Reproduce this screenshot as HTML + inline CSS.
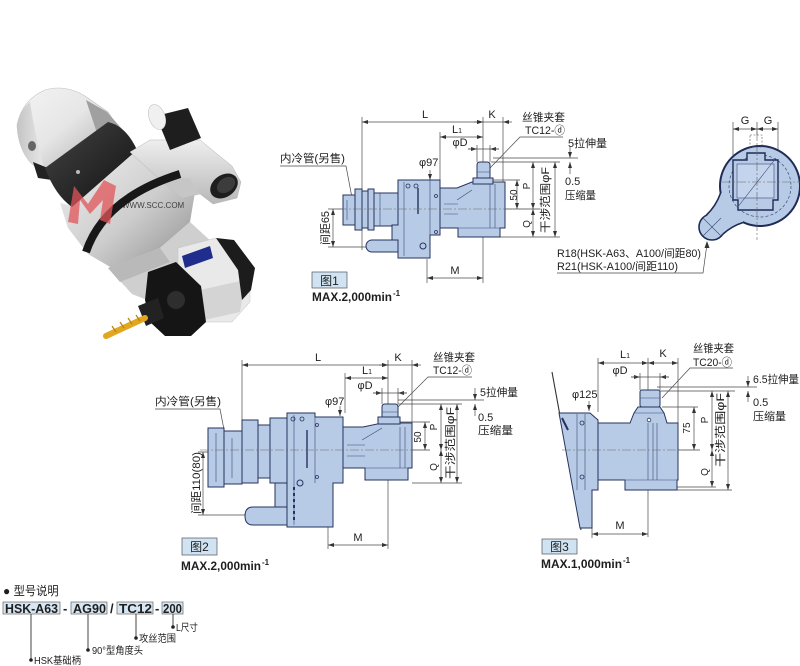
<!DOCTYPE html>
<html><head><meta charset="utf-8">
<style>
html,body{margin:0;padding:0;background:#fff;}
svg{display:block;}
text{font-family:"Liberation Sans","Noto Sans CJK SC",sans-serif;fill:#1e1e1e;}
.d{stroke:#4a4a4a;stroke-width:0.7;fill:none;}
.dm{stroke:#4a4a4a;stroke-width:0.7;fill:none;marker-start:url(#ar);marker-end:url(#ar);}
.de{stroke:#4a4a4a;stroke-width:0.7;fill:none;marker-end:url(#ar);}
.cl{stroke:#666;stroke-width:0.6;fill:none;stroke-dasharray:9 2 2 2;}
.b{fill:#b8cbe6;stroke:#26335f;stroke-width:1;}
.i{stroke:#3a4a78;stroke-width:0.6;fill:none;}
.t11{font-size:11px;}
.t10{font-size:10px;}
.t12{font-size:12px;}
</style></head><body>
<svg width="800" height="666" viewBox="0 0 800 666" xmlns="http://www.w3.org/2000/svg">
<defs>
<marker id="ar" viewBox="0 0 6 4" refX="6" refY="2" markerWidth="6" markerHeight="4" orient="auto-start-reverse" markerUnits="userSpaceOnUse"><path d="M0,0 L6,2 L0,4 z" fill="#333"/></marker>
<linearGradient id="gSh" x1="0" y1="0" x2="1" y2="1"><stop offset="0" stop-color="#f4f4f4"/><stop offset="0.45" stop-color="#e6e6e6"/><stop offset="1" stop-color="#a4a4a4"/></linearGradient>
<linearGradient id="gSi" x1="0" y1="0" x2="1" y2="1"><stop offset="0" stop-color="#f2f2f2"/><stop offset="0.55" stop-color="#cdcdcd"/><stop offset="1" stop-color="#8e8e8e"/></linearGradient>
<linearGradient id="gSi2" x1="0" y1="0" x2="0" y2="1"><stop offset="0" stop-color="#eeeeee"/><stop offset="1" stop-color="#b8b8b8"/></linearGradient>
<linearGradient id="gBk" x1="0" y1="0" x2="1" y2="1"><stop offset="0" stop-color="#444"/><stop offset="1" stop-color="#111"/></linearGradient>
<linearGradient id="gEnd" x1="0" y1="0" x2="1" y2="0"><stop offset="0" stop-color="#c4c4c4"/><stop offset="1" stop-color="#e8e8e8"/></linearGradient>
</defs>
<rect width="800" height="666" fill="#fff"/>

<!-- ================= PHOTO ================= -->
<g>
 <!-- shank -->
 <path d="M17,125 Q22,100 45,90 Q65,84 85,96 L108,112 L120,130 L58,174 Q40,172 30,162 Q18,148 17,125 Z" fill="url(#gSh)" stroke="#c0c0c0" stroke-width="0.6"/>
 <path d="M17,125 Q20,110 30,102 Q34,130 44,168 Q36,168 30,162 Q18,148 17,125 Z" fill="url(#gEnd)"/>
 <path d="M86,100 L107,112 L122,129 L100,142 Z" fill="#a0a0a0"/>
 <ellipse cx="32" cy="146" rx="4" ry="5" fill="#666"/>
 <path d="M33,162 L48,168 L52,180 L38,178 Z" fill="#222"/>
 <!-- main silver body -->
 <path d="M60,203 L72,206 L136,150 L152,146 L178,160 L196,186 L190,222 L160,248 L112,268 L88,254 L68,228 Z" fill="url(#gSi)"/>
 <!-- black ring 1 -->
 <path d="M45,168 L108,122 Q126,126 137,150 L72,207 Q55,195 45,168 Z" fill="url(#gBk)"/>
 <circle cx="78" cy="172" r="2" fill="#bbb"/>
 <!-- arm -->
 <path d="M130,152 L150,140 L200,140 L232,166 L241,182 L237,198 L213,204 L200,194 L182,198 L160,180 Z" fill="url(#gSi2)" stroke="#b5b5b5" stroke-width="0.5"/>
 <path d="M160,180 L182,198 L200,194 L190,178 Z" fill="#c6c6c6"/>
 <!-- small cylinder top -->
 <path d="M156,116 L188,108 L201,138 L170,150 Z" fill="#1e1e1e"/>
 <ellipse cx="157" cy="117" rx="8" ry="13" transform="rotate(-20 157 117)" fill="#f0f0f0" stroke="#bbb" stroke-width="0.5"/>
 <!-- black cap -->
 <ellipse cx="224" cy="186" rx="15" ry="11" transform="rotate(-35 224 186)" fill="#1e1e1e"/>
 <ellipse cx="226" cy="185" rx="10" ry="7" transform="rotate(-35 226 185)" fill="#3c3c3c"/>
 <!-- ring 2 -->
 <path d="M86,252 Q104,198 180,174" stroke="#181818" stroke-width="8" fill="none"/>
 <!-- watermark -->
 <path d="M68,222 L74,186 L88,204 L104,180 L116,186 L110,224 L100,220 L103,200 L90,214 L80,200 L78,224 Z" fill="#e0555a" opacity="0.75"/>
 <text x="122" y="208" font-size="8" fill="#c9c9c9" opacity="0.8">WWW.SCC.COM</text>
 <!-- lower housing -->
 <path d="M108,268 L160,248 L190,222 L214,244 L205,292 L152,302 L132,294 Z" fill="#cfcfcf"/>
 <path d="M108,268 L160,248 L170,262 L120,282 Z" fill="#b9b9b9"/>
 <!-- gearbox -->
 <path d="M178,248 L216,238 L250,266 L250,302 L232,322 L200,322 L178,292 Z" fill="#e9e9e9" stroke="#c4c4c4" stroke-width="0.5"/>
 <path d="M200,290 L245,280 L240,312 L204,320 Z" fill="#d4d4d4"/>
 <path d="M216,238 L234,240 L255,268 L251,290 L242,300 L238,270 Z" fill="#1c1c1c"/>
 <path d="M182,256 L210,246 L213,258 L185,268 Z" fill="#1f2d8c"/>
 <!-- black flange -->
 <path d="M148,272 L176,262 L201,286 L206,322 L191,336 L165,336 L150,322 L145,300 Z" fill="#151515"/>
 <circle cx="176" cy="300" r="9" fill="#2e2e2e"/>
 <path d="M138,306 L158,298 L164,318 L146,326 Z" fill="#222"/>
 <!-- drill -->
 <path d="M145,318 L106,336" stroke="#e2a71e" stroke-width="6" stroke-linecap="round"/>
 <path d="M140,321 L136,315 M132,324 L128,318 M124,328 L120,322 M116,332 L112,326" stroke="#b97f0c" stroke-width="1.2"/>
</g>

<!-- ================= FIG 1 ================= -->
<g>
 <path class="d" d="M362,117 V250 M483,117 V283 M503,117 V182 M440,132 V180 M427,259 V283"/>
 <path class="dm" d="M362,122 H483"/>
 <path class="d" d="M483,122 H503"/>
 <path class="de" d="M512,122 H503"/><path class="de" d="M474,122 H483"/>
 <path class="dm" d="M440,137 H483"/>
 <path class="d" d="M477,145 V162 M490,145 V162"/>
 <path class="de" d="M468,149 H477"/><path class="de" d="M499,149 H490"/>
 <path class="d" d="M468,149 H499"/>
 <path class="de" d="M430,170 V180"/>
 <path class="dm" d="M427,278 H483"/>
 <path class="d" d="M328,209 H343 M328,247 H372"/>
 <path class="dm" d="M333,209 V247"/>
 <path class="d" d="M493,158 H578 M491,162 H560 M493,180 H520 M500,237 H560 M505,209 H540"/>
 <path class="dm" d="M517,180 V209"/>
 <path class="dm" d="M533,162 V209"/>
 <path class="dm" d="M533,209 V237"/>
 <path class="dm" d="M555,162 V237"/>
 <path class="de" d="M570,146 V158"/><path class="de" d="M570,174 V162"/>
 <path class="d" d="M280,166 H346 L353,203"/>
 <path class="d" d="M563,137 H520 L490,168"/>
 <rect class="b" x="343" y="195" width="12" height="30"/>
 <rect class="b" x="355" y="189" width="7" height="41"/>
 <rect class="b" x="362" y="191" width="6" height="37"/>
 <rect class="b" x="368" y="189" width="6" height="41"/>
 <rect class="b" x="374" y="193" width="24" height="33"/>
 <path class="b" d="M398,240 H372 A6,6 0 0 0 372,252 H398 Z"/>
 <path class="b" d="M398,180 H440 V235 H430 V258 H398 V240 H392 V225 H398 Z"/>
 <path class="b" d="M440,188 H457 L472,182 H505 V228 H500 V237 H458 V228 H440 Z"/>
 <rect class="b" x="473" y="178" width="20" height="6"/>
 <path class="b" d="M477,178 V165 Q477,162 480,162 H487 Q490,162 490,165 V178 Z"/>
 <path class="i" d="M404,182 V256 M430,180 V235 M458,228 H500 M490,184 V228 M495,184 V228 M457,200 L472,190 M444,214 H458 M444,204 H458 M347,200 V220 M380,193 V226 M477,172 H490"/>
 <path d="M418,188 V214" stroke="#26335f" stroke-width="1.4"/>
 <circle cx="408" cy="186" r="2" fill="none" stroke="#26335f" stroke-width="0.8"/>
 <circle cx="416" cy="186" r="2" fill="none" stroke="#26335f" stroke-width="0.8"/>
 <circle cx="423" cy="246" r="3" fill="none" stroke="#26335f" stroke-width="1"/>
 <circle cx="436" cy="196" r="1.5" fill="none" stroke="#26335f" stroke-width="0.8"/>
 <circle cx="436" cy="232" r="1.5" fill="none" stroke="#26335f" stroke-width="0.8"/>
 <path class="cl" d="M338,209 H545"/>
 <text class="t11" x="425" y="118" text-anchor="middle">L</text>
 <text class="t11" x="492" y="118" text-anchor="middle">K</text>
 <text class="t11" x="457" y="133" text-anchor="middle">L<tspan font-size="7">1</tspan></text>
 <text class="t11" x="460" y="146" text-anchor="middle">φD</text>
 <text class="t11" x="419" y="166">φ97</text>
 <text class="t11" x="280" y="162" textLength="65" lengthAdjust="spacingAndGlyphs">内冷管(另售)</text>
 <text class="t11" x="522" y="121" textLength="43" lengthAdjust="spacingAndGlyphs">丝锥夹套</text>
 <text class="t11" x="525" y="134" textLength="40" lengthAdjust="spacingAndGlyphs">TC12-ⓓ</text>
 <text class="t11" x="568" y="147" textLength="39" lengthAdjust="spacingAndGlyphs">5拉伸量</text>
 <text class="t11" x="565" y="185">0.5</text>
 <text class="t11" x="565" y="199" textLength="31" lengthAdjust="spacingAndGlyphs">压缩量</text>
 <text class="t10" transform="translate(517,195) rotate(-90)" text-anchor="middle">50</text>
 <text class="t10" transform="translate(530,186) rotate(-90)" text-anchor="middle">P</text>
 <text class="t10" transform="translate(530,224) rotate(-90)" text-anchor="middle">Q</text>
 <text class="t11" transform="translate(549,200) rotate(-90)" text-anchor="middle" textLength="66" lengthAdjust="spacingAndGlyphs">干涉范围φF</text>
 <text class="t11" transform="translate(329,228) rotate(-90)" text-anchor="middle" textLength="34" lengthAdjust="spacingAndGlyphs">间距65</text>
 <text class="t11" x="455" y="274" text-anchor="middle">M</text>
 <rect x="312" y="272" width="35" height="16" fill="#cfe3f3" stroke="#555" stroke-width="0.7"/>
 <text class="t12" x="329.5" y="285" text-anchor="middle">图1</text>
 <text x="312" y="301" font-size="12" font-weight="bold" textLength="80" lengthAdjust="spacingAndGlyphs">MAX.2,000min</text>
 <text x="393" y="296" font-size="8" font-weight="bold">-1</text>
</g>

<!-- ================= CIRCLE VIEW ================= -->
<g>
 <path class="d" d="M733,122 V160 M757,122 V135 M778,122 V160"/>
 <path class="dm" d="M733,129 H757"/>
 <path class="dm" d="M757,129 H778"/>
 <text class="t11" x="745" y="124" text-anchor="middle">G</text>
 <text class="t11" x="768" y="124" text-anchor="middle">G</text>
 <circle cx="712" cy="227" r="13" fill="#b8cbe6" stroke="#1f2b55" stroke-width="1.6"/>
 <circle cx="760" cy="186" r="40" fill="#b8cbe6" stroke="#1f2b55" stroke-width="2"/>
 <path d="M707,215 Q716,206 721,193 L745,200 L743,222 Q732,226 723,234 L712,227 Z" fill="#b8cbe6"/>
 <path d="M706.5,215 Q716,206 720.6,193" stroke="#1f2b55" stroke-width="1.6" fill="none"/>
 <path d="M743,222.5 Q732,226 723,234" stroke="#1f2b55" stroke-width="1.6" fill="none"/>
 <path class="i" d="M703,236 L721,218 M703,218 L721,236"/>
 <circle cx="760" cy="186" r="31" fill="none" stroke="#3a4a78" stroke-width="0.7" stroke-dasharray="3 2"/>
 <path d="M733,160 H747 V153 H765 V160 H778 V200 H773 V210 H738 V200 H733 Z" fill="#b8cbe6" stroke="#1f2b55" stroke-width="1.4"/>
 <rect x="737" y="164" width="37" height="34" fill="#c3d4ec" stroke="#3a4a78" stroke-width="0.6"/>
 <path class="i" d="M737,208 L776,158"/>
 <rect x="750" y="135" width="12" height="12" fill="none" stroke="#555" stroke-width="0.6" stroke-dasharray="2 1.5"/>
 <path class="cl" d="M757,132 V240 M722,182 H800"/>
 <path class="d" d="M557,273 H703 L707,244"/>
 <path d="M707,241 L704.5,248 L709.5,248 Z" fill="#333"/>
 <text class="t11" x="557" y="257" textLength="144" lengthAdjust="spacingAndGlyphs">R18(HSK-A63、A100/间距80)</text>
 <text class="t11" x="557" y="270" textLength="121" lengthAdjust="spacingAndGlyphs">R21(HSK-A100/间距110)</text>
</g>

<!-- ================= FIG 2 ================= -->
<g>
 <path class="d" d="M242,360 V420 M388,360 V549 M412,360 V427 M345,373 V413 M328,527 V549"/>
 <path class="dm" d="M242,365 H388"/>
 <path class="d" d="M388,365 H412"/>
 <path class="de" d="M421,365 H412"/><path class="de" d="M379,365 H388"/>
 <path class="dm" d="M345,378 H388"/>
 <path class="d" d="M382,388 V404 M398,388 V404"/>
 <path class="de" d="M373,393 H382"/><path class="de" d="M407,393 H398"/>
 <path class="d" d="M373,393 H407"/>
 <path class="de" d="M340,406 V416"/>
 <path class="dm" d="M328,545 H388"/>
 <path class="d" d="M198,452 H212 M198,515 H330"/>
 <path class="dm" d="M203,452 V515"/>
 <path class="d" d="M398,400 H484 M398,404 H462 M400,422 H430 M412,483 H462 M412,450 H430"/>
 <path class="dm" d="M425,422 V450"/>
 <path class="dm" d="M441,404 V450"/>
 <path class="dm" d="M441,450 V483"/>
 <path class="dm" d="M457,404 V483"/>
 <path class="de" d="M475,388 V400"/><path class="de" d="M475,416 V404"/>
 <path class="d" d="M155,409 H220 L226,440"/>
 <path class="d" d="M472,377 H428 L397,408"/>
 <rect class="b" x="208" y="428" width="16" height="59"/>
 <rect class="b" x="224" y="431" width="18" height="53"/>
 <rect class="b" x="242" y="420" width="16" height="63"/>
 <rect class="b" x="258" y="425" width="12" height="53"/>
 <rect class="b" x="270" y="418" width="17" height="65"/>
 <rect class="b" x="275" y="483" width="12" height="24"/>
 <path class="b" d="M287,507 H253 Q245,507 245,516 Q245,525 253,525 H287 Z"/>
 <path class="b" d="M287,413 H315 V417 H343 V483 H333 V527 H287 Z"/>
 <path class="b" d="M343,427 H363 L382,423 H412 V468 H408 V480 H365 V468 H343 Z"/>
 <rect class="b" x="378" y="417" width="22" height="7"/>
 <path class="b" d="M382,417 V407 Q382,404 385,404 H395 Q398,404 398,407 V417 Z"/>
 <path class="i" d="M315,417 V483 M294,415 V525 M365,468 H408 M400,427 V468 M405,427 V468 M362,440 L382,428 M347,445 H365 M347,456 H365 M216,433 V482 M232,438 V478 M382,412 H398"/>
 <path d="M307,430 V468" stroke="#26335f" stroke-width="1.4"/>
 <path d="M294,487 V520" stroke="#26335f" stroke-width="2" stroke-dasharray="3 3"/>
 <circle cx="293" cy="419" r="2" fill="none" stroke="#26335f" stroke-width="0.8"/>
 <circle cx="302" cy="419" r="2" fill="none" stroke="#26335f" stroke-width="0.8"/>
 <circle cx="300" cy="483" r="3" fill="none" stroke="#26335f" stroke-width="1"/>
 <circle cx="317" cy="425" r="1.5" fill="none" stroke="#26335f" stroke-width="0.8"/>
 <circle cx="317" cy="477" r="1.5" fill="none" stroke="#26335f" stroke-width="0.8"/>
 <path class="cl" d="M200,450 H430"/>
 <text class="t11" x="318" y="361" text-anchor="middle">L</text>
 <text class="t11" x="398" y="361" text-anchor="middle">K</text>
 <text class="t11" x="367" y="374" text-anchor="middle">L<tspan font-size="7">1</tspan></text>
 <text class="t11" x="365" y="389" text-anchor="middle">φD</text>
 <text class="t11" x="325" y="405">φ97</text>
 <text class="t11" x="155" y="405" textLength="66" lengthAdjust="spacingAndGlyphs">内冷管(另售)</text>
 <text class="t11" x="433" y="361" textLength="42" lengthAdjust="spacingAndGlyphs">丝锥夹套</text>
 <text class="t11" x="433" y="374" textLength="39" lengthAdjust="spacingAndGlyphs">TC12-ⓓ</text>
 <text class="t11" x="480" y="396" textLength="38" lengthAdjust="spacingAndGlyphs">5拉伸量</text>
 <text class="t11" x="478" y="421">0.5</text>
 <text class="t11" x="478" y="434" textLength="35" lengthAdjust="spacingAndGlyphs">压缩量</text>
 <text class="t10" transform="translate(421,437) rotate(-90)" text-anchor="middle">50</text>
 <text class="t10" transform="translate(437,427) rotate(-90)" text-anchor="middle">P</text>
 <text class="t10" transform="translate(437,467) rotate(-90)" text-anchor="middle">Q</text>
 <text class="t11" transform="translate(454,443) rotate(-90)" text-anchor="middle" textLength="72" lengthAdjust="spacingAndGlyphs">干涉范围φF</text>
 <text class="t11" transform="translate(200,483) rotate(-90)" text-anchor="middle" textLength="62" lengthAdjust="spacingAndGlyphs">间距110(80)</text>
 <text class="t11" x="358" y="541" text-anchor="middle">M</text>
 <rect x="182" y="538" width="35" height="17" fill="#cfe3f3" stroke="#555" stroke-width="0.7"/>
 <text class="t12" x="199.5" y="551" text-anchor="middle">图2</text>
 <text x="181" y="570" font-size="12" font-weight="bold" textLength="80" lengthAdjust="spacingAndGlyphs">MAX.2,000min</text>
 <text x="262" y="565" font-size="8" font-weight="bold">-1</text>
</g>

<!-- ================= FIG 3 ================= -->
<g>
 <path class="d" d="M598,358 V412 M648,358 V537 M678,358 V423 M592,528 V538"/>
 <path class="dm" d="M598,363 H648"/>
 <path class="dm" d="M648,363 H678"/>
 <path class="d" d="M640,373 V390 M660,373 V390"/>
 <path class="de" d="M631,377 H640"/><path class="de" d="M669,377 H660"/>
 <path class="d" d="M631,377 H669"/>
 <path class="de" d="M589,401 V411"/>
 <path class="dm" d="M592,534 H648"/>
 <path class="d" d="M657,387 H757 M660,391 H735 M662,407 H698 M677,487 H716 M677,490 H732 M678,450 H700"/>
 <path class="dm" d="M694,407 V450"/>
 <path class="dm" d="M712,391 V450"/>
 <path class="dm" d="M712,450 V487"/>
 <path class="dm" d="M728,391 V490"/>
 <path class="de" d="M748,376 V387"/><path class="de" d="M748,402 V391"/>
 <path class="d" d="M733,368 H690 L662,398"/>
 <path d="M552,372 L581,530" stroke="#333" stroke-width="1.1"/>
 <path class="b" d="M559,413 H590 L598,420 V490 H592 V528 H580 Z"/>
 <path class="b" d="M598,423 H630 L634,413 L638,407 H660 L664,413 L667,423 H678 V480 H677 V490 H625 V480 H598 Z"/>
 <rect class="b" x="640" y="390" width="20" height="17" rx="2"/>
 <path class="i" d="M577,414 V490 M585,414 V490 M648,423 V480 M653,423 V480 M657,423 V480 M625,480 H677 M634,413 H664 M640,398 H660"/>
 <path d="M562,418 L568,430" stroke="#26335f" stroke-width="2"/>
 <circle cx="582" cy="423" r="2" fill="none" stroke="#26335f" stroke-width="0.8"/>
 <circle cx="582" cy="477" r="2" fill="none" stroke="#26335f" stroke-width="0.8"/>
 <circle cx="649" cy="420" r="1.8" fill="#fff" stroke="#26335f" stroke-width="0.8"/>
 <path class="cl" d="M562,450 H700"/>
 <text class="t11" x="625" y="358" text-anchor="middle">L<tspan font-size="7">1</tspan></text>
 <text class="t11" x="663" y="357" text-anchor="middle">K</text>
 <text class="t11" x="620" y="374" text-anchor="middle">φD</text>
 <text class="t11" x="572" y="398">φ125</text>
 <text class="t11" x="693" y="352" textLength="41" lengthAdjust="spacingAndGlyphs">丝锥夹套</text>
 <text class="t11" x="693" y="366" textLength="39" lengthAdjust="spacingAndGlyphs">TC20-ⓓ</text>
 <text class="t11" x="753" y="383" textLength="46" lengthAdjust="spacingAndGlyphs">6.5拉伸量</text>
 <text class="t11" x="753" y="406">0.5</text>
 <text class="t11" x="753" y="420" textLength="33" lengthAdjust="spacingAndGlyphs">压缩量</text>
 <text class="t10" transform="translate(690,428) rotate(-90)" text-anchor="middle">75</text>
 <text class="t10" transform="translate(708,420) rotate(-90)" text-anchor="middle">P</text>
 <text class="t10" transform="translate(708,472) rotate(-90)" text-anchor="middle">Q</text>
 <text class="t11" transform="translate(724,430) rotate(-90)" text-anchor="middle" textLength="74" lengthAdjust="spacingAndGlyphs">干涉范围φF</text>
 <text class="t11" x="620" y="529" text-anchor="middle">M</text>
 <rect x="542" y="539" width="35" height="15" fill="#cfe3f3" stroke="#555" stroke-width="0.7"/>
 <text class="t12" x="559.5" y="551" text-anchor="middle">图3</text>
 <text x="541" y="568" font-size="12" font-weight="bold" textLength="81" lengthAdjust="spacingAndGlyphs">MAX.1,000min</text>
 <text x="623" y="563" font-size="8" font-weight="bold">-1</text>
</g>

<!-- ================= MODEL ================= -->
<g>
 <text x="3" y="595" font-size="12">● <tspan textLength="45" lengthAdjust="spacingAndGlyphs">型号说明</tspan></text>
 <g fill="#d6e6f3" stroke="#666" stroke-width="0.7">
  <rect x="3" y="602" width="57" height="12"/>
  <rect x="71" y="602" width="36" height="12"/>
  <rect x="117" y="602" width="36" height="12"/>
  <rect x="162" y="602" width="21" height="12"/>
 </g>
 <g font-size="13" font-weight="bold">
  <text x="5" y="613" textLength="53" lengthAdjust="spacingAndGlyphs">HSK-A63</text>
  <text x="63" y="613">-</text>
  <text x="73" y="613" textLength="33" lengthAdjust="spacingAndGlyphs">AG90</text>
  <text x="110" y="613">/</text>
  <text x="119" y="613" textLength="33" lengthAdjust="spacingAndGlyphs">TC12</text>
  <text x="155" y="613">-</text>
  <text x="163" y="613" textLength="19" lengthAdjust="spacingAndGlyphs">200</text>
 </g>
 <path d="M31,614 V659 M88,614 V649 M136,614 V637 M173,614 V626" stroke="#333" stroke-width="0.9"/>
 <circle cx="31" cy="660" r="1.8" fill="#222"/>
 <circle cx="88" cy="650" r="1.8" fill="#222"/>
 <circle cx="136" cy="638" r="1.8" fill="#222"/>
 <circle cx="173" cy="627" r="1.8" fill="#222"/>
 <text x="34" y="664" font-size="10" textLength="47" lengthAdjust="spacingAndGlyphs">HSK基础柄</text>
 <text x="92" y="654" font-size="10" textLength="51" lengthAdjust="spacingAndGlyphs">90°型角度头</text>
 <text x="139" y="642" font-size="10" textLength="37" lengthAdjust="spacingAndGlyphs">攻丝范围</text>
 <text x="176" y="631" font-size="10" textLength="22" lengthAdjust="spacingAndGlyphs">L尺寸</text>
</g>
</svg>
</body></html>
